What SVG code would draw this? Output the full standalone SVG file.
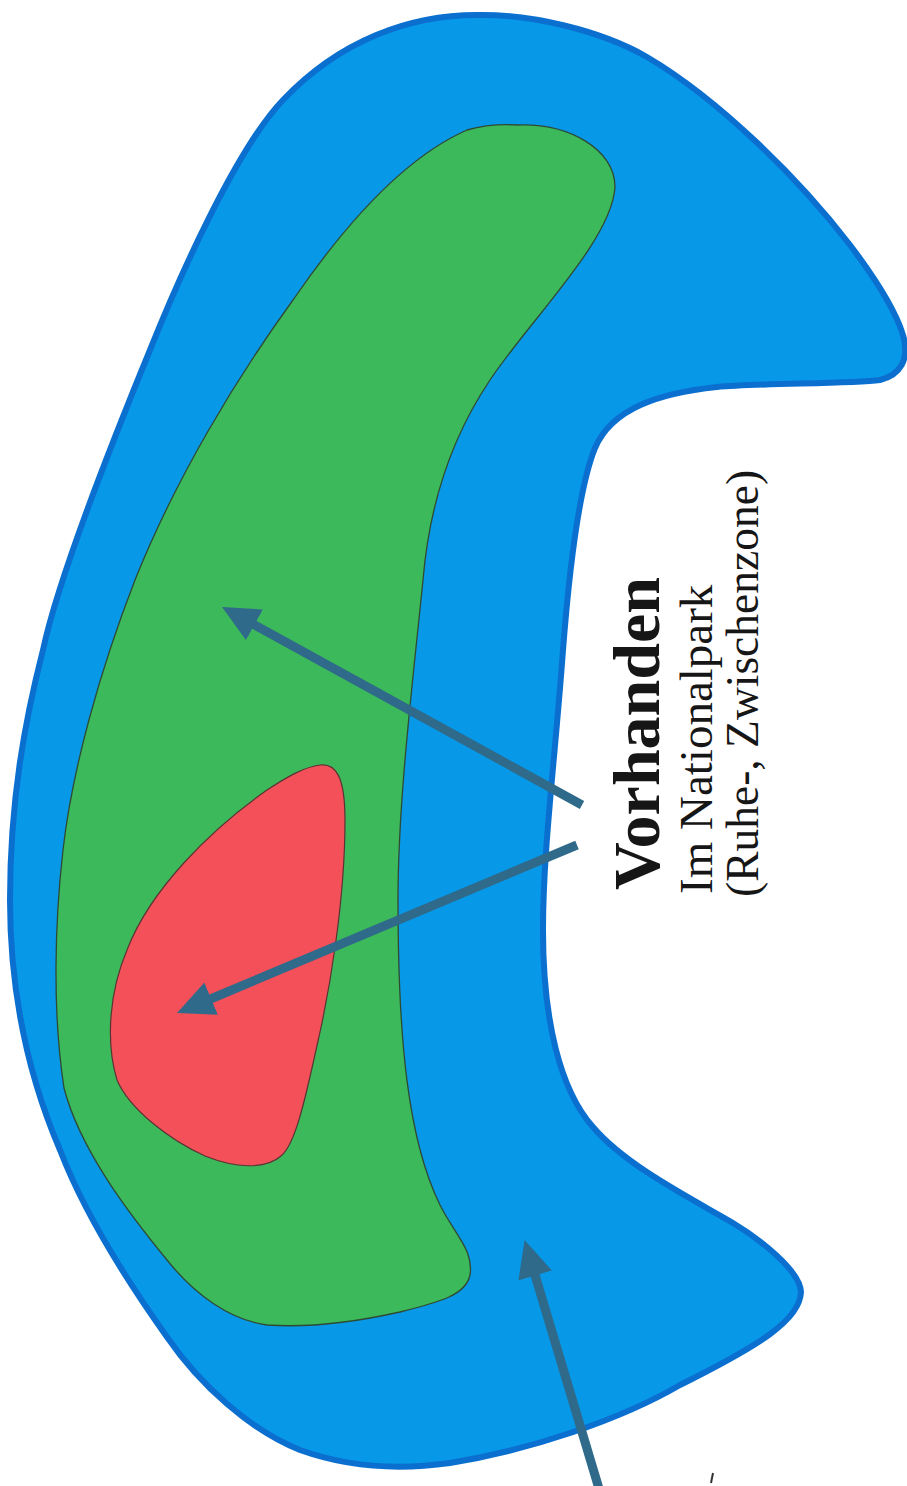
<svg xmlns="http://www.w3.org/2000/svg" width="907" height="1486" viewBox="0 0 907 1486">
  <style>
    .zone-blue { fill: #0898e8; stroke: #0b6fd0; stroke-width: 6; stroke-linejoin: round; }
    .zone-green { fill: #3cb95a; stroke: #2f4a33; stroke-width: 1.3; }
    .zone-red { fill: #f4505a; stroke: #5a3434; stroke-width: 1.2; }
    .arrow { fill: none; stroke: #2f6a8a; stroke-width: 9; stroke-linecap: butt; marker-end: url(#head); }
    .label { font-family: "Liberation Serif", "Times New Roman", serif; fill: #161616; }
    .title { font-weight: bold; font-size: 66px; }
    .sub { font-size: 47px; }
    .sub2 { font-size: 45.5px; }
  </style>
  <defs>
    <marker id="head" markerUnits="userSpaceOnUse" markerWidth="37" markerHeight="35" viewBox="0 0 37 35" refX="2" refY="17.5" orient="auto">
      <path d="M0,0 L37,17.5 L0,35 Z" fill="#2f6a8a"/>
    </marker>
  </defs>

  <g id="zone-outer">
    <path class="zone-blue" d="M477,15 C530,14 600,30 647,57 C720,100 800,180 850,245 C875,278 896,312 903,335 C910,360 900,375 880,380 C850,384 760,383 717,387 C660,393 612,408 595,448 C580,485 570,560 563,650 C555,760 543,850 543,930 C543,1020 560,1090 593,1127 C625,1165 690,1198 733,1223 C758,1238 800,1270 801,1292 C800,1320 760,1345 680,1385 C620,1420 530,1450 450,1463 C400,1470 350,1468 300,1450 C250,1430 200,1385 167,1337 C130,1285 85,1215 60,1150 C30,1080 10,1000 10,900 C10,800 25,720 43,650 C60,570 127,406 150,350 C176,285 235,150 283,100 C340,40 410,15 477,15 Z"/>
  </g>

  <g id="zone-middle">
    <path class="zone-green" d="M517,125 C570,123 615,150 615,187 C612,240 530,320 490,380 C445,447 428,520 423,580 C413,680 398,800 398,900 C398,1040 408,1140 440,1205 C455,1235 474,1250 470,1275 C466,1295 440,1302 400,1312 C360,1321 310,1328 267,1325 C230,1320 195,1295 167,1260 C130,1215 80,1150 64,1088 C52,1010 55,920 63,850 C72,770 100,670 135,580 C175,480 235,380 293,300 C350,217 410,155 467,130 C485,125 500,124 517,125 Z"/>
  </g>

  <g id="zone-core">
    <path class="zone-red" d="M320,765 C335,763 345,775 345,820 C345,900 330,990 316,1050 C305,1100 295,1145 281,1156 C265,1170 235,1168 205,1156 C170,1140 130,1110 117,1080 C105,1040 110,990 127,950 C150,890 210,830 267,790 C290,775 305,767 320,765 Z"/>
  </g>

  <g id="connectors">
    <path class="arrow" d="M582,805 L252.7,623.9"/>
    <path class="arrow" d="M577,845 L209.3,999.5"/>
    <path class="arrow" d="M600,1492 L534.6,1273.6"/>
  </g>

  <g id="label">
    <text class="label title" transform="translate(659,890) rotate(-90)">Vorhanden</text>
    <text class="label sub" transform="translate(712,894) rotate(-90)">Im Nationalpark</text>
    <text class="label sub2" transform="translate(758,897) rotate(-90)">(Ruhe-, Zwischenzone)</text>
  </g>

  <path d="M713,1473 L711,1483" stroke="#333" stroke-width="2" fill="none"/>
</svg>
